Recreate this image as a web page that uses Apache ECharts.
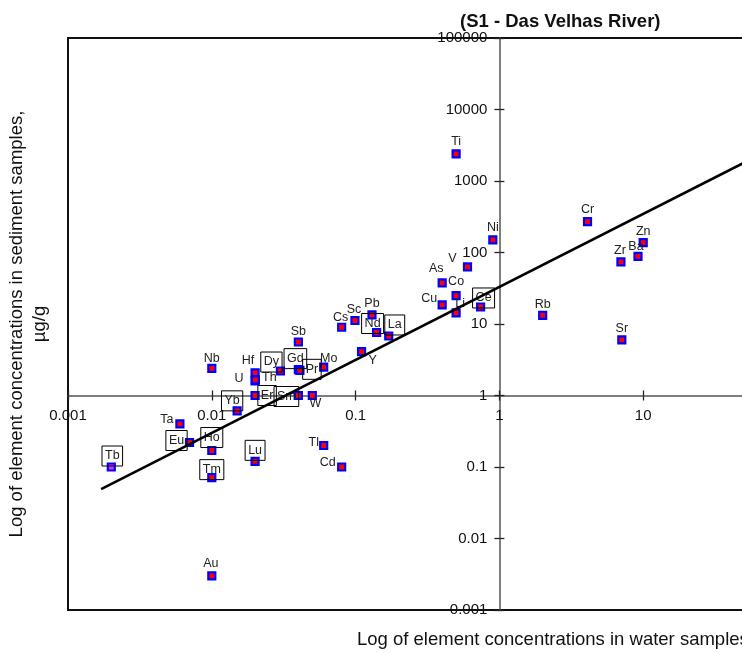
<!DOCTYPE html>
<html>
<head>
<meta charset="utf-8">
<script src="https://cdn.jsdelivr.net/npm/echarts@6/dist/echarts.min.js"></script>
<style>
  html, body { margin: 0; padding: 0; background: #fff; }
  #main { width: 742px; height: 653px; }
</style>
</head>
<body>
<div id="main"></div>
<script>
// element symbols and their concentrations (water in x, sediment in y)
const elements = ['Ti','Ni','V','As','Co','Cu','Li','Ce','Pb','Nd','La','Y','Sc','Cs','Sb','Mo','Gd','Pr','Dy','Hf','U','Th','Nb','Er','Sm','W','Yb','Ta','Eu','Ho','Tb','Tm','Lu','Tl','Cd','Au','Cr','Zn','Ba','Zr','Rb','Sr'];
const waterConc = [0.5, 0.9, 0.6, 0.4, 0.5, 0.4, 0.5, 0.74, 0.13, 0.14, 0.17, 0.11, 0.099, 0.08, 0.04, 0.06, 0.04, 0.041, 0.03, 0.02, 0.02, 0.0201, 0.01, 0.02, 0.04, 0.05, 0.015, 0.006, 0.007, 0.01, 0.002, 0.01, 0.02, 0.06, 0.08, 0.01, 4.1, 10, 9.2, 7, 2, 7.1];
const sedimentConc = [2400, 150, 63, 37.6, 25, 18.5, 14.3, 17.3, 13.4, 7.6, 6.8, 4.1, 11.2, 9, 5.6, 2.5, 2.3, 2.25, 2.2, 2.07, 1.6, 1.65, 2.4, 1.0, 1.0, 1.0, 0.61, 0.4, 0.22, 0.17, 0.1, 0.071, 0.12, 0.2, 0.1, 0.003, 270, 137, 88, 74, 13.2, 6];

// regression line end points
const fitWater = [0.0017, 100];
const fitSediment = [0.049, 3640];

const xTickLabels = ['0.001', '0.01', '0.1', '1', '10', '100'];
const yTickLabels = ['0.001', '0.01', '0.1', '1', '10', '100', '1000', '10000', '100000'];

// rare earths get a boxed label
const boxed = ['Dy','Gd','Pr','Nd','La','Ce','Yb','Er','Sm','Eu','Ho','Tb','Tm','Lu'];
// label placement relative to the marker centre
const labelShift = {
    Ti:[0,-12], Ni:[0,-12], V:[-15,-8], As:[-6,-14], Co:[0,-14], Cu:[-13,-6], Li:[4,-9], Ce:[3,-9],
    Pb:[0,-11], Nd:[-4,-9], La:[6,-11], Y:[11,9], Sc:[-1,-11], Cs:[-1,-10], Sb:[0,-10], Mo:[5,-9],
    Gd:[-3,-11], Pr:[12,-1], Dy:[-9,-9], Hf:[-7,-12], U:[-16,-2], Th:[14,-2], Nb:[0,-10],
    Er:[12,0], Sm:[-12,1], W:[3,8], Yb:[-5,-10], Ta:[-13,-4], Eu:[-13,-2], Ho:[0,-13], Tb:[1,-11],
    Tm:[0,-8], Lu:[0,-11], Tl:[-10,-3], Cd:[-14,-4], Au:[-1,-12], Cr:[0,-12], Zn:[0,-11],
    Ba:[-2,-10], Zr:[-1,-11], Rb:[0,-11], Sr:[0,-11]
};

const FONT = '"Liberation Sans", Arial, sans-serif';
const gridLeft = 68, gridTop = 38, gridW = 719, gridH = 572;
const xMin = 0.001, xMax = 100, yMin = 0.001, yMax = 100000;
// axes cross at (1, 1)
const yAxisShift = -gridW * (0 - Math.log10(xMin)) / (Math.log10(xMax) - Math.log10(xMin));
const xAxisShift = -gridH * (0 - Math.log10(yMin)) / (Math.log10(yMax) - Math.log10(yMin));

function tickText(list) {
    return function (v) {
        const lv = Math.log10(v);
        for (let i = 0; i < list.length; i++) {
            if (Math.abs(Math.log10(parseFloat(list[i])) - lv) < 1e-6) return list[i];
        }
        return '';
    };
}

const points = elements.map(function (name, i) {
    const item = {
        name: name,
        value: [waterConc[i], sedimentConc[i]],
        label: {
            show: true,
            position: 'inside',
            offset: labelShift[name] || [0, -11],
            formatter: name,
            color: '#222',
            fontSize: 12.5,
            fontFamily: FONT
        }
    };
    if (boxed.indexOf(name) >= 0) {
        item.label.borderColor = '#000';
        item.label.borderWidth = 1;
        item.label.padding = [4, 3, 3, 3];
    }
    if (name === 'Tb') {
        item.itemStyle = { color: '#e030e0' };
    }
    return item;
});

function makeX(inside, labels) {
    return {
        type: 'log', logBase: 10, min: xMin, max: xMax, splitNumber: 10,
        position: 'bottom', offset: xAxisShift,
        axisLine: { show: labels, lineStyle: { color: '#555', width: 1.5 } },
        axisTick: { show: true, inside: inside, length: 5, lineStyle: { color: '#222', width: 1.3 } },
        minorTick: { show: false },
        splitLine: { show: false },
        axisLabel: {
            show: labels, margin: 13, color: '#111', fontSize: 15, fontFamily: FONT,
            showMinLabel: true, showMaxLabel: true, formatter: tickText(xTickLabels)
        }
    };
}

function makeY(inside, labels) {
    return {
        type: 'log', logBase: 10, min: yMin, max: yMax, splitNumber: 10,
        position: 'left', offset: yAxisShift,
        axisLine: { show: labels, lineStyle: { color: '#555', width: 1.5 } },
        axisTick: { show: true, inside: inside, length: 5, lineStyle: { color: '#222', width: 1.3 } },
        minorTick: { show: false },
        splitLine: { show: false },
        axisLabel: {
            show: labels, margin: 12, color: '#111', fontSize: 15, fontFamily: FONT,
            showMinLabel: true, showMaxLabel: true, formatter: tickText(yTickLabels)
        }
    };
}

const myChart = echarts.init(document.getElementById('main'), null, { renderer: 'canvas' });
myChart.setOption({
    animation: false,
    backgroundColor: '#fff',
    title: {
        text: '(S1 - Das Velhas River)',
        left: 455, top: 7,
        textStyle: { fontSize: 18.5, fontWeight: 'bold', color: '#111', fontFamily: FONT }
    },
    grid: {
        left: gridLeft, top: gridTop, width: gridW, height: gridH,
        show: true, borderColor: '#111', borderWidth: 2, backgroundColor: 'transparent',
        outerBoundsMode: 'none', containLabel: false
    },
    xAxis: [makeX(false, true), makeX(true, false)],
    yAxis: [makeY(false, true), makeY(true, false)],
    graphic: [
        {
            type: 'text', x: 17, y: 324, rotation: Math.PI / 2,
            style: {
                text: 'Log of element concentrations in sediment samples,',
                fill: '#111', font: '18.5px ' + FONT, textAlign: 'center', textVerticalAlign: 'middle'
            }
        },
        {
            type: 'text', x: 40, y: 324, rotation: Math.PI / 2,
            style: {
                text: 'µg/g',
                fill: '#111', font: '18.5px ' + FONT, textAlign: 'center', textVerticalAlign: 'middle'
            }
        },
        {
            type: 'text', x: 357, y: 640,
            style: {
                text: 'Log of element concentrations in water samples, µg/L',
                fill: '#111', font: '18.5px ' + FONT, textAlign: 'left', textVerticalAlign: 'middle'
            }
        }
    ],
    series: [
        {
            type: 'scatter',
            xAxisIndex: 0, yAxisIndex: 0,
            symbol: 'rect',
            symbolSize: 7,
            itemStyle: { color: '#ff0000', borderColor: '#0000ff', borderWidth: 2.2, opacity: 1 },
            emphasis: { disabled: true },
            data: points,
            z: 3
        },
        {
            type: 'line',
            xAxisIndex: 0, yAxisIndex: 0,
            data: fitWater.map(function (x, i) { return [x, fitSediment[i]]; }),
            showSymbol: false,
            symbol: 'none',
            silent: true,
            lineStyle: { color: '#000', width: 2.5 },
            z: 4
        }
    ]
});
</script>
</body>
</html>
